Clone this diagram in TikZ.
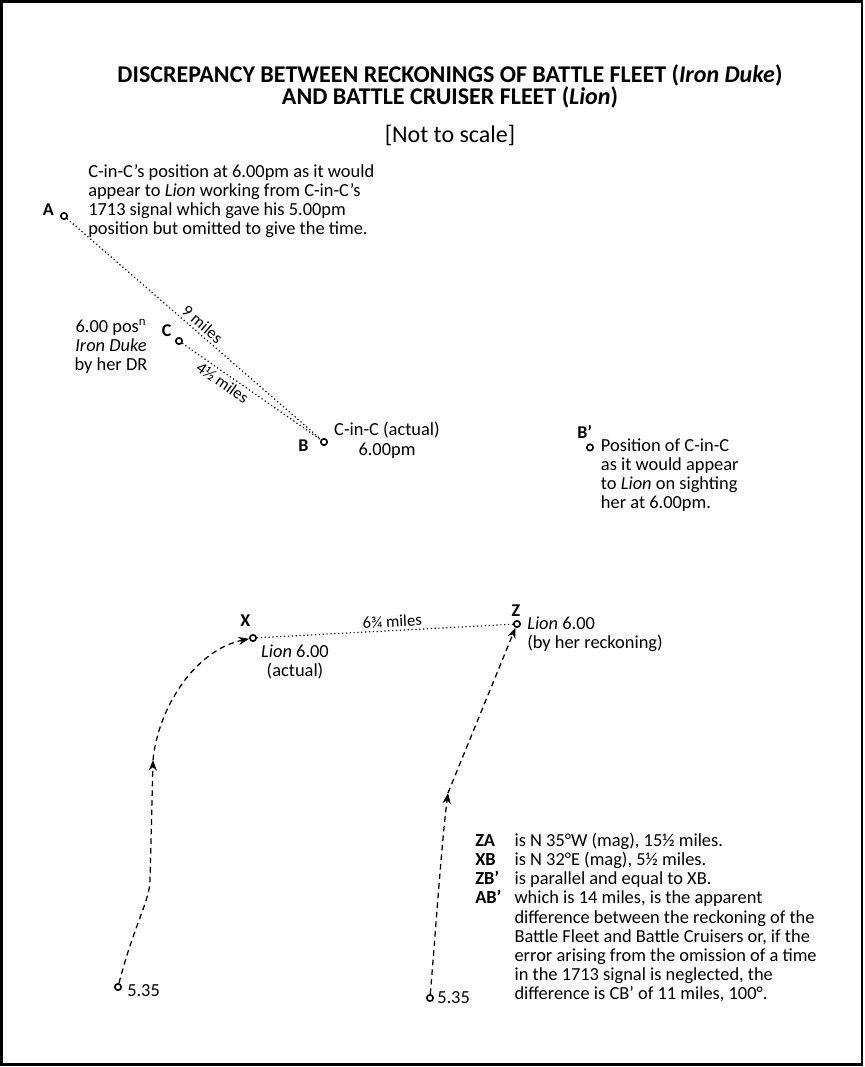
\documentclass[tikz,border=0pt]{standalone}
\usepackage{fontspec}
\setmainfont{Carlito}
\usetikzlibrary{arrows.meta}

\begin{document}
\begin{tikzpicture}[
        x=0.75pt, y=-0.75pt,
        posn/.style={
            circle,
            draw,
            fill=white,
            line width=1.2pt,
            inner sep=0pt,
            minimum size=4.8pt
        },
        lbl/.style={font=\fontsize{13.5}{14}\selectfont\bfseries, inner sep=0pt},
        note/.style={font=\fontsize{13.8}{14.3}\selectfont, inner sep=0pt},
        dist/.style={dotted, line width=0.9pt},
        track/.style={dash pattern=on 4.2pt off 3pt, line width=0.95pt},
        arrowed/.style={-{Stealth[length=8pt,width=6.2pt]}},
        miles/.style={font=\fontsize{12.5}{14}\selectfont, inner sep=2pt, sloped}
    ]
        \useasboundingbox (0,0) rectangle (864,1067);
        \draw[line width=2pt] (1.5,1.5) rectangle (862,1064.2);

        % heading (base = last line)
        \node[anchor=base, align=center, inner sep=0pt,
              font=\fontsize{18}{16.5}\selectfont\bfseries] (title) at (450,104)
            {DISCREPANCY BETWEEN RECKONINGS OF BATTLE FLEET (\textit{Iron Duke})\\
             AND BATTLE CRUISER FLEET (\textit{Lion})};
        \node[anchor=base, inner sep=0pt, font=\fontsize{18}{18}\selectfont]
            (scale) at (450,142) {[Not to scale]};

        % positions
        \node[posn] (ptA) at (64,216) {};
        \node[posn] (ptC) at (179,341) {};
        \node[posn] (ptB) at (324,442) {};
        \node[posn] (ptBp) at (590,447.5) {};
        \node[posn] (ptX) at (253,638) {};
        \node[posn] (ptZ) at (517,624) {};
        \node[posn] (startL) at (118,987) {};
        \node[posn] (startR) at (430,998) {};

        \node[lbl, anchor=base] (labA) at (48.3,215.7) {A};
        \node[lbl, anchor=base] (labC) at (166.7,336.7) {C};
        \node[lbl, anchor=base] (labB) at (303.5,451.7) {B};
        \node[lbl, anchor=base west] (labBp) at (577,438.3) {B’};
        \node[lbl, anchor=base] (labX) at (245.3,626.7) {X};
        \node[lbl, anchor=base] (labZ) at (516,616.7) {Z};

        % notes (placed by the baseline of their last line)
        \node[note, anchor=base west, align=left] (noteA) at (88,234.2)
            {C-in-C’s position at 6.00pm as it would\\
             appear to \textit{Lion} working from C-in-C’s\\
             1713 signal which gave his 5.00pm\\
             position but omitted to give the time.};
        \node[note, anchor=base, align=center] (noteC) at (111,370.7)
            {6.00 pos\textsuperscript{n}\\\textit{Iron Duke}\\by her DR};
        \node[note, anchor=base, align=center] (noteB) at (387,455)
            {C-in-C (actual)\\6.00pm};
        \node[note, anchor=base west, align=left] (noteBp) at (600.7,508.3)
            {Position of C-in-C\\as it would appear\\to \textit{Lion} on sighting\\her at 6.00pm.};
        \node[note, anchor=base, align=center] (noteX) at (295,676.7)
            {\textit{Lion} 6.00\\(actual)};
        \node[note, anchor=base west, align=left] (noteZ) at (527,648.3)
            {\textit{Lion} 6.00\\(by her reckoning)};
        \node[note, anchor=base west] (timeL) at (127,996.7) {5.35};
        \node[note, anchor=base west] (timeR) at (437,1003) {5.35};

        \node[note, anchor=base west, align=left, font=\fontsize{13.8}{14.3}\selectfont\bfseries]
            (keys) at (475,903.9) {ZA\\XB\\ZB’\\AB’};
        \node[note, anchor=base west, align=left] (remarks) at (514.3,999.3)
            {is N 35°W (mag), 15½ miles.\\
             is N 32°E (mag), 5½ miles.\\
             is parallel and equal to XB.\\
             which is 14 miles, is the apparent\\
             difference between the reckoning of the\\
             Battle Fleet and Battle Cruisers or, if the\\
             error arising from the omission of a time\\
             in the 1713 signal is neglected, the\\
             difference is CB’ of 11 miles, 100°.};

        % distances
        \draw[dist] (ptA) -- (ptB) node[miles, above, pos=0.51] {9 miles};
        \draw[dist] (ptC) -- (ptB) node[miles, below, pos=0.33] {4½ miles};
        \draw[dist] (ptX) -- (ptZ) node[miles, above, pos=0.53] {6¾ miles};

        % tracks
        \coordinate (bendL) at (150,880);
        \coordinate (tipL) at (153,760);
        \coordinate (tipR) at (448,793);
        \draw[track, arrowed] (startL) .. controls (134,925) and (150,900) .. (bendL) -- (tipL);
        \draw[track, arrowed] (tipL) .. controls (158,708) and (195,650) .. (ptX);
        \draw[track, arrowed] (startR) .. controls (438,900) and (442,840) .. (tipR);
        \draw[track, arrowed] (tipR) -- (ptZ);
    \end{tikzpicture}
\end{document}
